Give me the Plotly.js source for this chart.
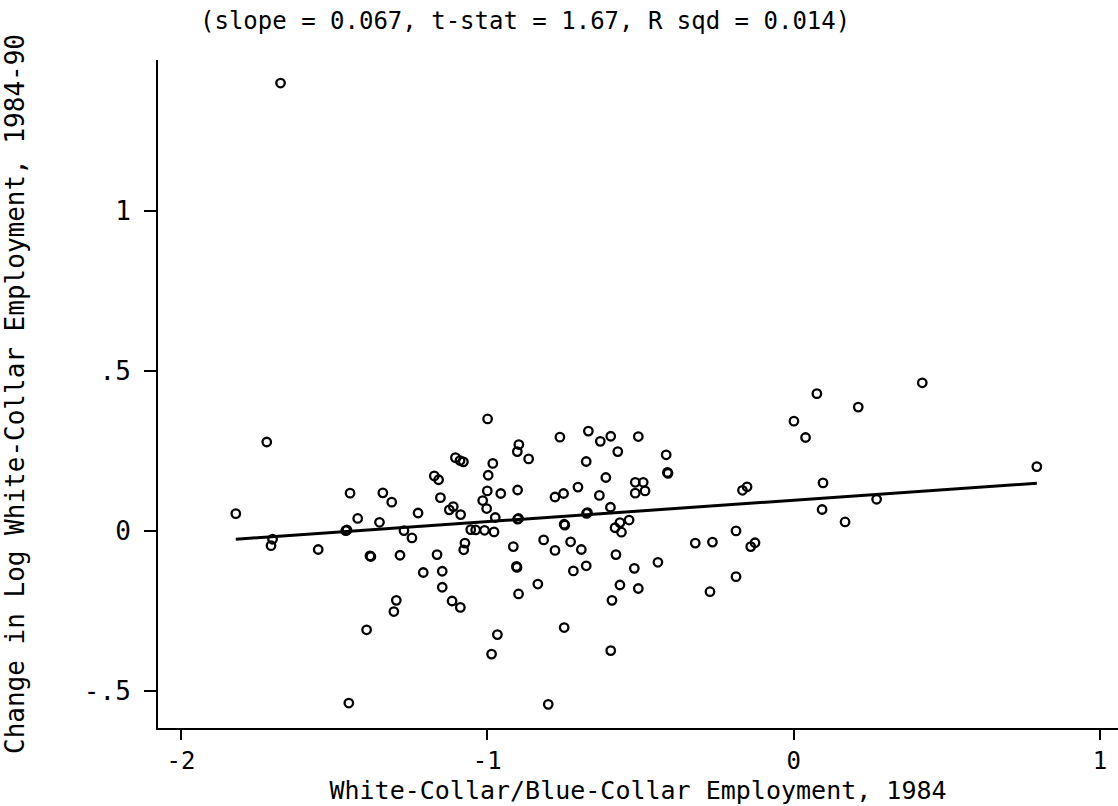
<!DOCTYPE html>
<html>
<head>
<meta charset="utf-8">
<script src="https://cdn.plot.ly/plotly-3.0.1.min.js"></script>
<style>html,body{margin:0;padding:0;background:#fff;}#chart{width:1118px;height:806px;}</style>
</head>
<body>
<div id="chart"></div>
<script>
// White-collar/blue-collar employment ratio (log), 1984
const xVals = [
 -1.821,-1.720,-1.706,-1.701,-1.675,-1.552,-1.462,-1.458,-1.452,-1.448,
 -1.423,-1.394,-1.383,-1.380,-1.352,-1.341,-1.312,-1.305,-1.297,-1.285,
 -1.272,-1.246,-1.226,-1.209,-1.173,-1.164,-1.159,-1.153,-1.147,-1.147,
 -1.124,-1.115,-1.111,-1.104,-1.089,-1.088,-1.087,-1.078,-1.077,-1.073,
 -1.054,-1.038,-1.015,-1.009,-1.002,-1.000,-0.999,-0.997,-0.986,-0.982,
 -0.978,-0.974,-0.967,-0.956,-0.915,-0.905,-0.903,-0.902,-0.901,-0.901,
 -0.898,-0.898,-0.897,-0.865,-0.835,-0.816,-0.801,-0.779,-0.779,-0.763,
 -0.751,-0.749,-0.747,-0.749,-0.728,-0.719,-0.704,-0.693,-0.677,-0.677,
 -0.676,-0.673,-0.670,-0.634,-0.631,-0.613,-0.598,-0.597,-0.597,-0.593,
 -0.583,-0.580,-0.574,-0.567,-0.567,-0.562,-0.537,-0.520,-0.517,-0.517,
 -0.507,-0.507,-0.491,-0.485,-0.443,-0.416,-0.412,-0.410,-0.321,-0.273,
 -0.265,-0.188,-0.188,-0.167,-0.152,-0.140,-0.126, 0.001, 0.039, 0.076,
  0.093, 0.096, 0.168, 0.211, 0.271, 0.420, 0.794
];
// Change in log white-collar employment, 1984-90
const yVals = [
  0.054, 0.278,-0.046,-0.026, 1.400,-0.058, 0.001, 0.003,-0.538, 0.118,
  0.039,-0.309,-0.078,-0.080, 0.027, 0.119, 0.090,-0.252,-0.217,-0.076,
  0.001,-0.022, 0.056,-0.130, 0.172,-0.074, 0.160, 0.104,-0.126,-0.176,
  0.066,-0.219, 0.076, 0.229, 0.220,-0.239, 0.051, 0.216,-0.059,-0.038,
  0.004, 0.003, 0.095, 0.002, 0.070, 0.125, 0.350, 0.174,-0.385, 0.211,
 -0.003, 0.042,-0.324, 0.117,-0.049,-0.111,-0.114, 0.248, 0.128, 0.037,
  0.039,-0.197, 0.270, 0.225,-0.166,-0.028,-0.542,-0.061, 0.106, 0.293,
  0.117, 0.021, 0.018,-0.302,-0.034,-0.125, 0.137,-0.058, 0.217,-0.109,
  0.055, 0.057, 0.312, 0.111, 0.280, 0.167, 0.074, 0.296,-0.374,-0.217,
  0.010,-0.074, 0.248, 0.026,-0.169,-0.004, 0.034,-0.117, 0.152, 0.118,
  0.295,-0.180, 0.152, 0.125,-0.098, 0.238, 0.183, 0.180,-0.038,-0.190,
 -0.035, 0.000,-0.143, 0.127, 0.138,-0.049,-0.037, 0.343, 0.292, 0.429,
  0.067, 0.150, 0.028, 0.387, 0.099, 0.463, 0.201
];
// Regression line
const fitSlope = 0.067;
const fitIntercept = 0.096;
const xTickVals = [-2, -1, 0, 1];
const xTickText = ['-2', '-1', '0', '1'];
const yTickVals = [-0.5, 0, 0.5, 1];
const yTickText = ['-.5', '0', '.5', '1'];
const titleText = '(slope = 0.067, t-stat = 1.67, R sqd = 0.014)';
const xTitle = 'White-Collar/Blue-Collar Employment, 1984';
const yTitle = 'Change in Log White-Collar Employment, 1984-90';

const fitX = [Math.min(...xVals), Math.max(...xVals)];
const fitY = fitX.map(v => fitIntercept + fitSlope * v);

const FONT = 'DejaVu Sans Mono, Liberation Mono, monospace';

const traces = [
  {x: xVals, y: yVals, type: 'scatter', mode: 'markers',
   marker: {symbol: 'circle-open', size: 8.5, color: '#000', line: {width: 2.3, color: '#000'}},
   hoverinfo: 'x+y', showlegend: false},
  {x: fitX, y: fitY, type: 'scatter', mode: 'lines',
   line: {color: '#000', width: 3}, showlegend: false}
];

const layout = {
  width: 1118, height: 806,
  paper_bgcolor: '#fff', plot_bgcolor: '#fff',
  margin: {l: 158, r: 0, t: 60, b: 78},
  font: {family: FONT, size: 25, color: '#000'},
  title: {text: titleText, font: {family: FONT, size: 24, color: '#000'},
          x: 200/1118, xanchor: 'left', xref: 'container',
          y: 1 - 21/806, yanchor: 'middle', yref: 'container'},
  xaxis: {range: [-2.075, 1.059], tickvals: xTickVals, ticktext: xTickText,
          showgrid: false, zeroline: false, showline: true, linecolor: '#000', linewidth: 2,
          ticks: 'outside', ticklen: 10, tickwidth: 2, tickcolor: '#000',
          tickfont: {family: FONT, size: 24, color: '#000'},
          title: {text: xTitle, font: {family: FONT, size: 25, color: '#000'}, standoff: 8}},
  yaxis: {range: [-0.616, 1.472], tickvals: yTickVals, ticktext: yTickText,
          showgrid: false, zeroline: false, showline: true, linecolor: '#000', linewidth: 2,
          ticks: 'outside', ticklen: 12, tickwidth: 2, tickcolor: '#000',
          ticklabelstandoff: 8,
          tickfont: {family: FONT, size: 26, color: '#000'},
          title: {text: yTitle, font: {family: FONT, size: 26, color: '#000'}, standoff: 55}}
};

Plotly.newPlot('chart', traces, layout, {displayModeBar: false, staticPlot: true});
</script>
</body>
</html>
